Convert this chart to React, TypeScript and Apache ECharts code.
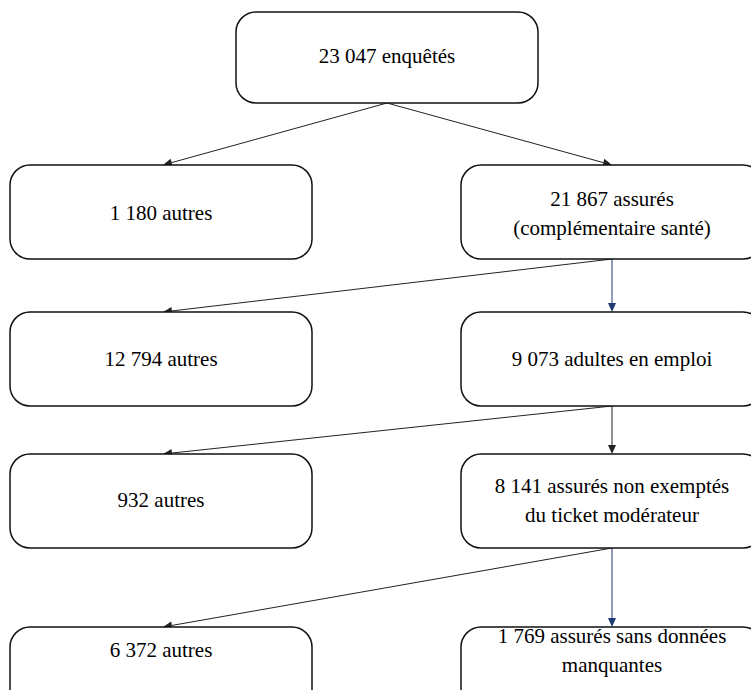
import React, { useEffect, useRef } from "react";
import * as echarts from "echarts";

// Flowchart content
const nodeLabels: string[] = [
  "23 047 enquêtés",
  "1 180 autres",
  "21 867 assurés\n(complémentaire santé)",
  "12 794 autres",
  "9 073 adultes en emploi",
  "932 autres",
  "8 141 assurés non exemptés\ndu ticket modérateur",
  "6 372 autres",
  "1 769 assurés sans données\nmanquantes",
];
// column index (0 = left, 1 = centre, 2 = right) and row index of each node
const nodeColumns: number[] = [1, 0, 2, 0, 2, 0, 2, 0, 2];
const nodeRows: number[] = [0, 1, 1, 2, 2, 3, 3, 4, 4];
// edges: [from, to]
const edgeFrom: number[] = [0, 0, 2, 2, 4, 4, 6, 6];
const edgeTo: number[] = [1, 2, 3, 4, 5, 6, 7, 8];
const edgeHighlight: boolean[] = [false, false, false, true, false, false, false, true];

// layout (pixel space of the hidden axes)
const columnCentres = [161, 387, 612];
const rowTops = [12, 165, 312, 454, 627];
const rowHeights = [91, 94, 94, 94, 94];
const rowTextCentres = [57, 214, 360, 501, 651];
const boxWidth = 302;

const FONT_FAMILY = "Liberation Serif";
const FONT_SIZE = 21;
const LINE_H = 29;

const nodeData = nodeLabels.map((label, i) => [
  columnCentres[nodeColumns[i]],
  rowTops[nodeRows[i]],
  rowHeights[nodeRows[i]],
  i,
]);

const edgeData = edgeFrom.map((f, i) => {
  const t = edgeTo[i];
  return [
    columnCentres[nodeColumns[f]],
    rowTops[nodeRows[f]] + rowHeights[nodeRows[f]],
    columnCentres[nodeColumns[t]] + (nodeColumns[t] === 0 ? 2 : 0),
    rowTops[nodeRows[t]],
    edgeHighlight[i] ? 1 : 0,
  ];
});

export default function App() {
  const ref = useRef<HTMLDivElement>(null);
  useEffect(() => {
    document.body.style.margin = "0";
    const chart = echarts.init(ref.current!, null, { renderer: "svg" });
    const base = {
      animation: false,
      grid: { left: 0, right: 0, top: 0, bottom: 0 },
      xAxis: { type: "value", min: 0, max: 751, show: false },
      yAxis: { type: "value", min: 0, max: 690, inverse: true, show: false },
    };
    chart.setOption(base);

    const canvas = document.createElement("canvas");
    const ctx = canvas.getContext("2d")!;
    ctx.font = FONT_SIZE + "px " + FONT_FAMILY;

    const graphicTexts: any[] = [];
    nodeLabels.forEach((label, i) => {
      const p = chart.convertToPixel({ gridIndex: 0 }, [
        columnCentres[nodeColumns[i]],
        rowTextCentres[nodeRows[i]],
      ]) as number[];
      const lines = label.split("\n");
      const blockTop = p[1] - (lines.length * LINE_H) / 2 + (LINE_H - FONT_SIZE) / 2 - 1;
      lines.forEach((ln, k) => {
        const w = ctx.measureText(ln).width;
        graphicTexts.push({
          type: "text",
          x: p[0] - w / 2,
          y: blockTop + k * LINE_H,
          z: 100,
          style: {
            text: ln,
            fontFamily: FONT_FAMILY,
            fontSize: FONT_SIZE,
            fill: "#000",
          },
        });
      });
    });

    chart.setOption({
      ...base,
      backgroundColor: "#ffffff",
      graphic: graphicTexts,
      series: [
        {
          type: "custom",
          data: edgeData,
          clip: false,
          silent: true,
          renderItem: (params: any, api: any) => {
            const p0 = api.coord([api.value(0), api.value(1)]);
            const p1 = api.coord([api.value(2), api.value(3)]);
            const hl = api.value(4) === 1;
            const color = hl ? "#1f3a70" : "#222222";
            const dx = p1[0] - p0[0];
            const dy = p1[1] - p0[1];
            const len = Math.sqrt(dx * dx + dy * dy);
            const ux = dx / len;
            const uy = dy / len;
            const hlen = 9;
            const hw = 4;
            const bx = p1[0] - ux * hlen;
            const by = p1[1] - uy * hlen;
            return {
              type: "group",
              children: [
                {
                  type: "line",
                  shape: { x1: p0[0], y1: p0[1], x2: bx, y2: by },
                  style: { stroke: color, lineWidth: 1 },
                },
                {
                  type: "polygon",
                  shape: {
                    points: [
                      [p1[0], p1[1]],
                      [bx - uy * hw, by + ux * hw],
                      [bx + uy * hw, by - ux * hw],
                    ],
                  },
                  style: { fill: color },
                },
              ],
            };
          },
        },
        {
          type: "custom",
          data: nodeData,
          clip: false,
          silent: true,
          renderItem: (params: any, api: any) => {
            const cx = api.value(0);
            const top = api.value(1);
            const h = api.value(2);
            const tl = api.coord([cx - boxWidth / 2, top]);
            const br = api.coord([cx + boxWidth / 2, top + h]);
            return {
              type: "rect",
              shape: {
                x: tl[0],
                y: tl[1],
                width: br[0] - tl[0],
                height: br[1] - tl[1],
                r: 20,
              },
              style: { fill: "#ffffff", stroke: "#111111", lineWidth: 1.5 },
            };
          },
        },
      ],
    });
    return () => chart.dispose();
  }, []);
  return <div ref={ref} style={{ width: 751, height: 690 }} />;
}
